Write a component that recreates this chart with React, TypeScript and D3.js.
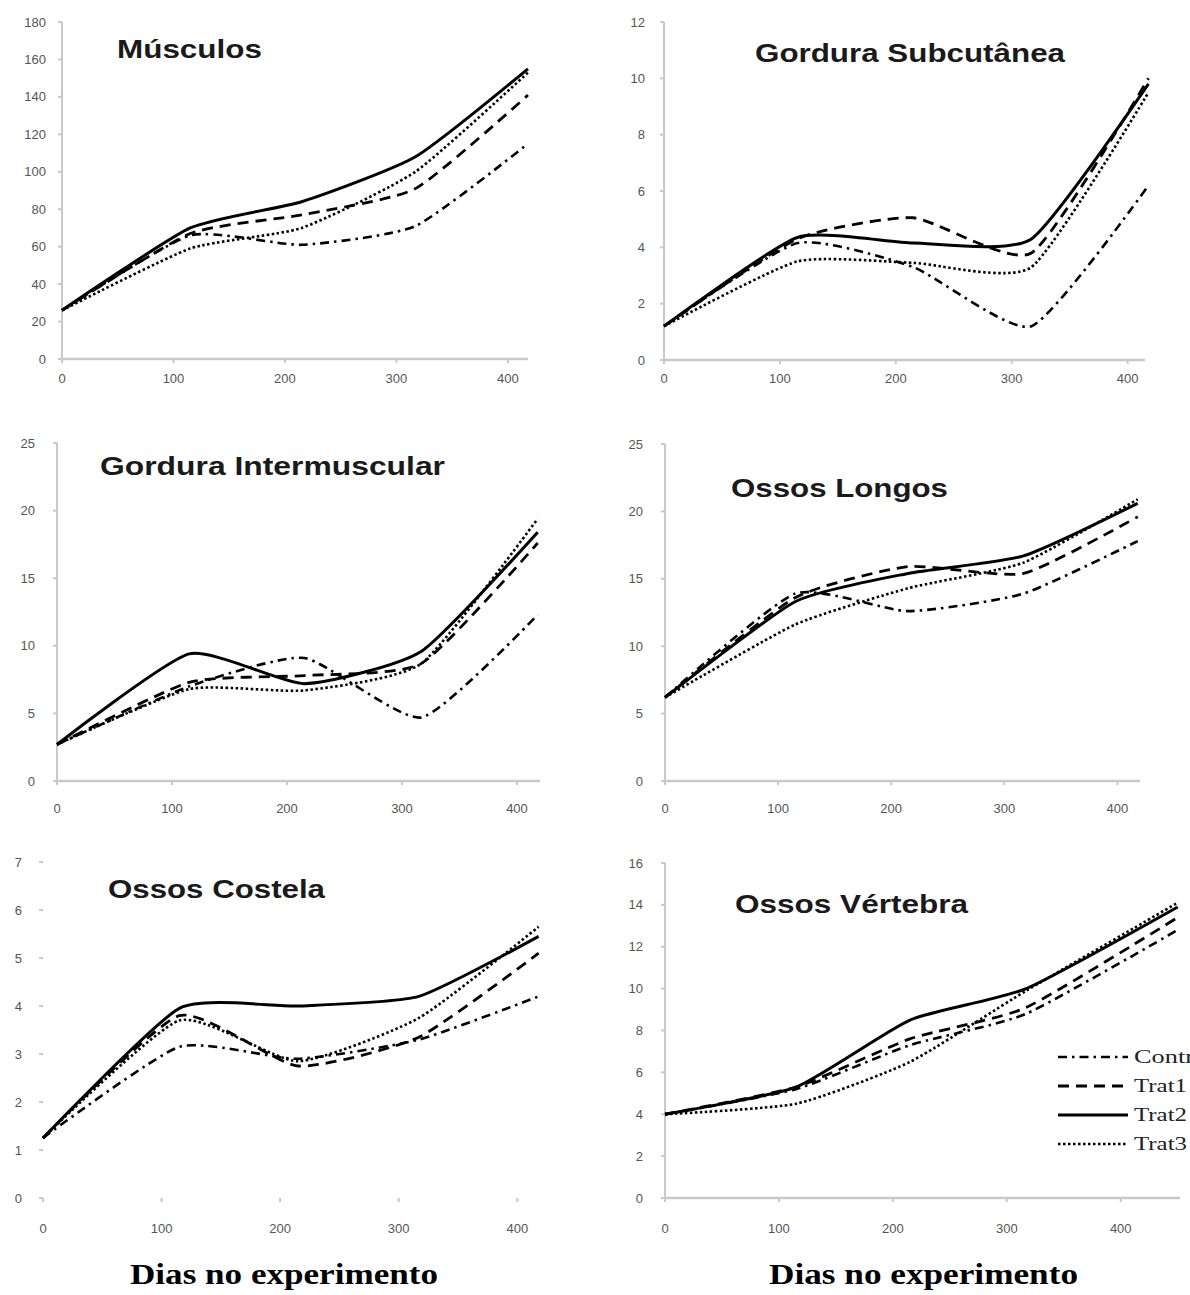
import React from 'react';
import * as d3 from 'd3';

// ---------------- DATA ----------------
const treatments = ['Contr', 'Trat1', 'Trat2', 'Trat3'];
const days = [0, 115, 215, 317, 418];
const daysVertebra = [0, 115, 215, 317, 450];
const xTicks = [0, 100, 200, 300, 400];

// values per treatment, order: Contr, Trat1, Trat2, Trat3
const musculos = [
  [26, 66, 61, 71, 115],
  [26, 67, 77, 91, 141],
  [26, 70, 84, 108, 155],
  [26, 59, 70, 100, 153],
];
const gorduraSubcutanea = [
  [1.2, 4.15, 3.3, 1.2, 6.2],
  [1.2, 4.3, 5.05, 3.8, 10.0],
  [1.2, 4.35, 4.15, 4.3, 9.8],
  [1.2, 3.5, 3.45, 3.3, 9.5],
];
const gorduraIntermuscular = [
  [2.7, 7.0, 9.1, 4.7, 12.3],
  [2.7, 7.3, 7.8, 8.7, 17.6],
  [2.7, 9.4, 7.2, 9.6, 18.4],
  [2.7, 6.8, 6.7, 8.7, 19.4],
];
const ossosLongos = [
  [6.2, 13.9, 12.6, 13.9, 17.8],
  [6.2, 13.6, 15.9, 15.4, 19.6],
  [6.2, 13.3, 15.4, 16.7, 20.6],
  [6.2, 11.6, 14.3, 16.2, 20.9],
];
const ossosCostela = [
  [1.25, 3.15, 2.9, 3.3, 4.2],
  [1.25, 3.8, 2.75, 3.35, 5.1],
  [1.25, 3.95, 4.0, 4.2, 5.45],
  [1.25, 3.7, 2.85, 3.75, 5.65],
];
const ossosVertebra = [
  [4.0, 5.2, 7.3, 8.8, 12.8],
  [4.0, 5.3, 7.6, 9.1, 13.4],
  [4.0, 5.3, 8.5, 10.0, 13.9],
  [4.0, 4.5, 6.5, 9.9, 14.1],
];

const xAxisTitle = 'Dias no experimento';

// ---------------- LAYOUT ----------------
const panels = [
  { title: 'Músculos', data: musculos, days, left: 62, right: 528, top: 22, bottom: 359, xMax: 418, yMax: 180, yStep: 20,
    tx: 117, ty: 58, tw: 145, xLabY: 383, yLabX: 46, axis: true },
  { title: 'Gordura Subcutânea', data: gorduraSubcutanea, days, left: 664, right: 1145, top: 22, bottom: 360, xMax: 415, yMax: 12, yStep: 2,
    tx: 755, ty: 62, tw: 310, xLabY: 383, yLabX: 645, axis: true },
  { title: 'Gordura Intermuscular', data: gorduraIntermuscular, days, left: 57, right: 540, top: 443, bottom: 781, xMax: 420, yMax: 25, yStep: 5,
    tx: 100, ty: 475, tw: 345, xLabY: 813, yLabX: 35, axis: true },
  { title: 'Ossos Longos', data: ossosLongos, days, left: 665, right: 1140, top: 444, bottom: 781, xMax: 420, yMax: 25, yStep: 5,
    tx: 731, ty: 497, tw: 217, xLabY: 813, yLabX: 643, axis: true },
  { title: 'Ossos Costela', data: ossosCostela, days, left: 43, right: 541, top: 862, bottom: 1198, xMax: 420, yMax: 7, yStep: 1,
    tx: 108, ty: 898, tw: 217, xLabY: 1233, yLabX: 22, axis: false },
  { title: 'Ossos Vértebra', data: ossosVertebra, days: daysVertebra, left: 665, right: 1180, top: 863, bottom: 1198, xMax: 452, yMax: 16, yStep: 2,
    tx: 735, ty: 913, tw: 233, xLabY: 1233, yLabX: 643, axis: true },
];

const lineStyles = [
  { dash: '9,5,2.5,5', width: 2.6 },
  { dash: '11,7', width: 2.8 },
  { dash: undefined, width: 3 },
  { dash: '2.5,2.5', width: 2.6 },
];
const drawOrder = [0, 1, 3, 2];

function Panel({ p }: { p: any }) {
  const x = d3.scaleLinear().domain([0, p.xMax]).range([p.left, p.right]);
  const y = d3.scaleLinear().domain([0, p.yMax]).range([p.bottom, p.top]);
  const yTicks = d3.range(0, p.yMax + p.yStep / 2, p.yStep);
  const line = d3
    .line<number>()
    .x((_, i) => x(p.days[i]))
    .y((d) => y(d))
    .curve(d3.curveCardinal.tension(0.45));
  const axisColor = p.axis ? '#c9c9c9' : 'none';
  return (
    <g>
      {p.axis && (
        <g>
          <line x1={p.left} x2={p.left} y1={p.top} y2={p.bottom} stroke={axisColor} strokeWidth={2} />
          <line x1={p.left} x2={p.right} y1={p.bottom} y2={p.bottom} stroke={axisColor} strokeWidth={2.5} />
        </g>
      )}
      {yTicks.map((t: number) => (
        <g key={'y' + t}>
          <line x1={p.left - 4} x2={p.left} y1={y(t)} y2={y(t)} stroke="#c9c9c9" strokeWidth={2} />
          <text x={p.yLabX} y={y(t) + 4.5} textAnchor="end" fontSize={13} fontFamily="Liberation Sans, Arial, sans-serif" fill="#555">
            {t}
          </text>
        </g>
      ))}
      {xTicks.map((t) => (
        <g key={'x' + t}>
          <line x1={x(t)} x2={x(t)} y1={p.bottom} y2={p.bottom + 4} stroke="#c9c9c9" strokeWidth={2} />
          <text x={x(t)} y={p.xLabY} textAnchor="middle" fontSize={13} fontFamily="Liberation Sans, Arial, sans-serif" fill="#555">
            {t}
          </text>
        </g>
      ))}
      <text x={p.tx} y={p.ty} fontSize={26} fontWeight="bold" fontFamily="Liberation Sans, Arial, sans-serif" fill="#1a1a1a"
        textLength={p.tw} lengthAdjust="spacingAndGlyphs">
        {p.title}
      </text>
      {drawOrder.map((si) => (
        <path key={si} d={line(p.data[si]) || ''} fill="none" stroke="#000" strokeWidth={lineStyles[si].width}
          strokeDasharray={lineStyles[si].dash} strokeLinejoin="round" />
      ))}
    </g>
  );
}

export default function App() {
  const legendX1 = 1058;
  const legendX2 = 1128;
  const legendY0 = 1057;
  const legendDy = 29;
  return (
    <svg width={1190} height={1295} style={{ position: 'absolute', left: 0, top: 0, background: '#fff' }}>
      <rect x={0} y={0} width={1190} height={1295} fill="#fff" />
      {panels.map((p, i) => (
        <Panel key={i} p={p} />
      ))}
      {treatments.map((t, i) => (
        <g key={t}>
          <line x1={legendX1} x2={legendX2} y1={legendY0 + i * legendDy} y2={legendY0 + i * legendDy} stroke="#000"
            strokeWidth={lineStyles[i].width} strokeDasharray={lineStyles[i].dash} />
          <text x={legendX2 + 6} y={legendY0 + i * legendDy + 6} fontSize={18} fontFamily="Liberation Serif, Times New Roman, serif"
            fill="#222" textLength={t === 'Contr' ? 60 : 53} lengthAdjust="spacingAndGlyphs">
            {t}
          </text>
        </g>
      ))}
      <text x={130} y={1284} fontSize={29} fontWeight="bold" fontFamily="Liberation Serif, Times New Roman, serif" fill="#000"
        textLength={308} lengthAdjust="spacingAndGlyphs">
        {xAxisTitle}
      </text>
      <text x={769} y={1284} fontSize={29} fontWeight="bold" fontFamily="Liberation Serif, Times New Roman, serif" fill="#000"
        textLength={309} lengthAdjust="spacingAndGlyphs">
        {xAxisTitle}
      </text>
    </svg>
  );
}
